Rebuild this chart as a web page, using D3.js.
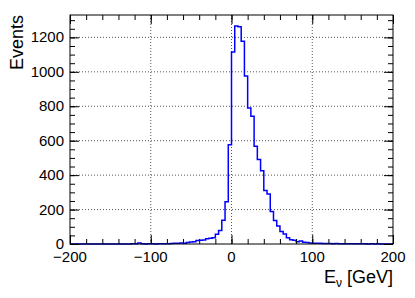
<!DOCTYPE html>
<html>
<head>
<meta charset="utf-8">
<script src="https://cdn.jsdelivr.net/npm/d3@7"></script>
<style>
  body { margin: 0; background: #fff; }
  text { font-family: "Liberation Sans", Arial, sans-serif; }
</style>
</head>
<body>
<script>
// histogram: 100 bins of width 4 GeV from -200 to 200
var binLow = -200, binWidth = 4;
var counts = [
  0, 0, 0, 0, 0, 0, 0, 0, 0, 0,
  0, 0, 0, 0, 0, 0, 0, 0, 0, 1,
  2, 6, 1, 0, 1, 1, 0, 1, 1, 2,
  2, 3, 4, 4, 6, 5, 8, 11, 13, 20,
  22, 23, 31, 34, 36, 56, 79, 138, 245, 576,
  1115, 1266, 1262, 1177, 976, 790, 742, 568, 491, 425,
  311, 290, 189, 137, 104, 73, 58, 37, 24, 22,
  13, 17, 10, 8, 6, 5, 4, 4, 3, 3,
  3, 2, 3, 2, 2, 2, 1, 2, 1, 1,
  1, 1, 0, 1, 0, 1, 0, 0, 0, 0
];
var xTicks = [-200, -100, 0, 100, 200];
var yTicks = [0, 200, 400, 600, 800, 1000, 1200];
var xTitle = "E";
var xTitleSub = "ν";
var xTitleUnit = " [GeV]";
var yTitle = "Events";

var svgWidth = 415, svgHeight = 298;
var margin = {top:15, right:22, bottom:54, left:70};
var width = svgWidth - margin.left - margin.right;
var height = svgHeight - margin.top - margin.bottom;

var svg = d3.select("body")
    .append("svg")
    .attr("width", svgWidth)
    .attr("height", svgHeight);

var g = svg.append("g")
    .attr("transform", "translate(" + margin.left + "," + margin.top + ")");

var x = d3.scaleLinear().domain([-200, 200]).range([0, width]);
var y = d3.scaleLinear().domain([0, 1330]).range([height, 0]);

// grid
g.selectAll(".gx")
  .data(xTicks.slice(1, -1))
  .enter().append("line")
  .attr("x1", function(d){ return x(d); })
  .attr("x2", function(d){ return x(d); })
  .attr("y1", 0).attr("y2", height)
  .attr("stroke", "#555").attr("stroke-dasharray", "1,2");

g.selectAll(".gy")
  .data(yTicks.slice(1))
  .enter().append("line")
  .attr("x1", 0).attr("x2", width)
  .attr("y1", function(d){ return y(d); })
  .attr("y2", function(d){ return y(d); })
  .attr("stroke", "#555").attr("stroke-dasharray", "1,2");

// histogram outline
var pts = [[binLow, 0]];
counts.forEach(function(c, i){
  pts.push([binLow + i*binWidth, c]);
  pts.push([binLow + (i+1)*binWidth, c]);
});
g.append("path")
  .datum(pts)
  .attr("fill", "none")
  .attr("stroke", "#0000ff")
  .attr("stroke-width", 1.5)
  .attr("d", d3.line().x(function(d){ return x(d[0]); }).y(function(d){ return y(d[1]); }));

// axes: ROOT style, ticks inside on all four sides
var fmt = function(d){ return d < 0 ? "\u2212" + Math.abs(d) : d; };
var xMinor = d3.range(-200, 201, 20);
var yMinor = d3.range(0, 1331, 50);

function tickAxis(axis, sel){
  sel.call(axis);
  sel.select(".domain").remove();
  sel.selectAll("text").remove();
  sel.selectAll("line").attr("stroke", "#000");
}

tickAxis(d3.axisTop(x).tickValues(xMinor).tickSize(5),
  g.append("g").attr("transform", "translate(0," + height + ")"));
tickAxis(d3.axisTop(x).tickValues(xTicks).tickSize(9),
  g.append("g").attr("transform", "translate(0," + height + ")"));
tickAxis(d3.axisBottom(x).tickValues(xMinor).tickSize(5), g.append("g"));
tickAxis(d3.axisBottom(x).tickValues(xTicks).tickSize(9), g.append("g"));
tickAxis(d3.axisRight(y).tickValues(yMinor).tickSize(5), g.append("g"));
tickAxis(d3.axisRight(y).tickValues(yTicks).tickSize(9), g.append("g"));
tickAxis(d3.axisLeft(y).tickValues(yMinor).tickSize(5),
  g.append("g").attr("transform", "translate(" + width + ",0)"));
tickAxis(d3.axisLeft(y).tickValues(yTicks).tickSize(9),
  g.append("g").attr("transform", "translate(" + width + ",0)"));

g.append("rect")
  .attr("width", width).attr("height", height)
  .attr("fill", "none").attr("stroke", "#000").attr("stroke-width", 1);

// tick labels
g.selectAll(".xl")
  .data(xTicks)
  .enter().append("text")
  .attr("x", function(d){ return x(d); })
  .attr("y", height + 18)
  .attr("text-anchor", "middle")
  .attr("font-size", "15px")
  .text(fmt);

g.selectAll(".yl")
  .data(yTicks)
  .enter().append("text")
  .attr("x", -6)
  .attr("y", function(d){ return y(d) + 5; })
  .attr("text-anchor", "end")
  .attr("font-size", "15px")
  .text(fmt);

// axis titles
var xt = svg.append("text")
  .attr("x", margin.left + width)
  .attr("y", 283)
  .attr("text-anchor", "end")
  .attr("font-size", "18px");
xt.append("tspan").text(xTitle);
xt.append("tspan").attr("dy", 4).attr("font-size", "12px").text(xTitleSub);
xt.append("tspan").attr("dy", -4).text(xTitleUnit);

svg.append("text")
  .attr("transform", "translate(23," + margin.top + ") rotate(-90)")
  .attr("text-anchor", "end")
  .attr("font-size", "18px")
  .text(yTitle);
</script>
</body>
</html>
